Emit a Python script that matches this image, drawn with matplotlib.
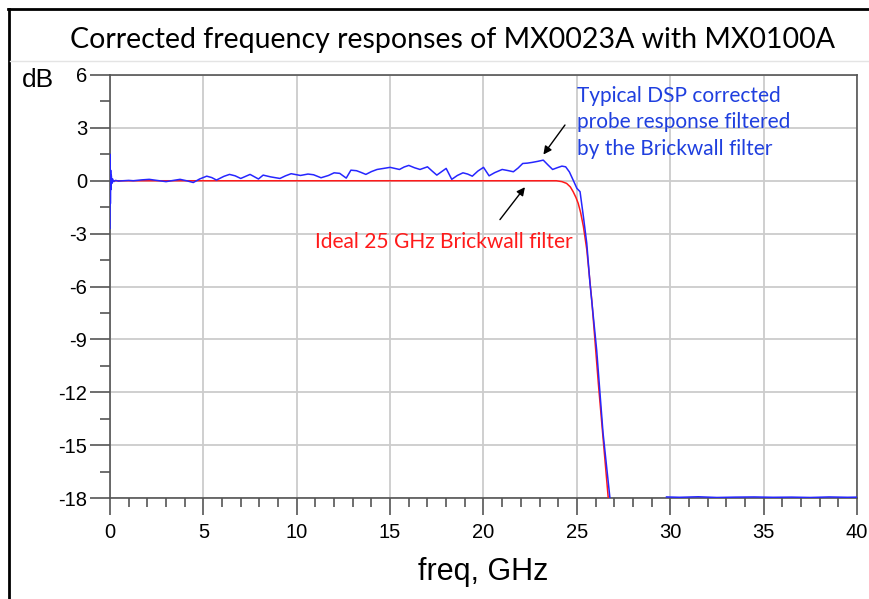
import matplotlib
matplotlib.use('Agg')
import matplotlib.pyplot as plt
from matplotlib.lines import Line2D
import numpy as np

plt.rcParams['axes.unicode_minus'] = False

# DSP corrected probe response (blue), gap where it drops below -18 dB
blue_freq = [0.0, 0.01, 0.02, 0.035, 0.05, 0.07, 0.1, 0.14, 0.2, 0.3, 0.45, 0.7,
             1.0, 1.25, 1.7, 2.1, 2.5, 3.0, 3.4, 3.75, 4.1, 4.46, 4.8, 5.18, 5.45, 5.7,
             6.1, 6.4, 6.7, 7.0, 7.5, 7.95, 8.2, 8.6, 9.1, 9.4, 9.7, 10.2, 10.6, 10.9, 11.3,
             11.7, 12.0, 12.3, 12.65, 12.9, 13.2, 13.45, 13.7, 14.0, 14.3, 14.65, 15.0,
             15.5, 15.75, 16.0, 16.3, 16.6, 17.0, 17.25, 17.5, 18.0, 18.3, 18.6, 18.9,
             19.15, 19.4, 19.7, 20.0, 20.3, 20.6, 21.0, 21.3, 21.6, 21.85,
             22.1, 22.35, 22.6, 22.9, 23.2, 23.45, 23.7, 23.95, 24.2, 24.4, 24.6, 24.8,
             25.0, 25.17, 25.35, 25.53, 25.7, 26.06, 26.4, 26.77,
             np.nan,
             29.8, 30.5, 31.5, 32.5, 33.5, 34.5, 35.5, 36.5, 37.5, 38.5, 39.5, 40.0]
blue_db = [-2.7, 1.5, -1.3, 0.6, -0.5, 0.3, -0.15, 0.1, -0.05, 0.02, -0.02, 0.0,
           0.02, 0.0, 0.05, 0.08, 0.02, -0.05, 0.02, 0.08, 0.0, -0.1, 0.1, 0.26, 0.18, 0.04,
           0.25, 0.36, 0.28, 0.13, 0.36, 0.1, 0.32, 0.22, 0.13, 0.28, 0.4, 0.3, 0.38, 0.34, 0.17,
           0.3, 0.45, 0.42, 0.15, 0.6, 0.57, 0.47, 0.36, 0.52, 0.64, 0.7, 0.76,
           0.64, 0.78, 0.87, 0.74, 0.64, 0.79, 0.55, 0.32, 0.7, 0.08, 0.3, 0.45,
           0.38, 0.26, 0.55, 0.76, 0.28, 0.46, 0.64, 0.58, 0.51, 0.72,
           0.98, 1.0, 1.04, 1.1, 1.17, 0.9, 0.64, 0.74, 0.83, 0.79, 0.5, 0.04,
           -0.43, -0.62, -2.04, -3.55, -5.8, -9.6, -14.3, -18.0,
           np.nan,
           -17.94, -17.96, -17.93, -17.97, -17.95, -17.94, -17.96, -17.95, -17.97, -17.94, -17.96, -17.95]

# Ideal 25 GHz brickwall filter (red)
red_freq = [0.0, 23.9, 24.2, 24.45, 24.65, 24.8, 24.95, 25.07, 25.2, 25.35, 25.53,
            25.8, 26.15, 26.68]
red_db = [0.0, 0.0, -0.05, -0.15, -0.35, -0.62, -0.95, -1.28, -1.8, -2.6, -3.9,
          -6.8, -11.5, -18.0]

title = "Corrected frequency responses of MX0023A with MX0100A"
blue_label = "Typical DSP corrected\nprobe response filtered\nby the Brickwall filter"
red_label = "Ideal 25 GHz Brickwall filter"

tick_font = 'Liberation Sans'
note_font = 'Lato'

fig = plt.figure(figsize=(8.7, 5.99), dpi=100)
ax = fig.add_axes([110/870, 1-498/599, 747/870, 423/599])

ax.plot(red_freq, red_db, color='#ff1a1a', lw=1.1, zorder=3)
ax.plot(blue_freq, blue_db, color='#2626ff', lw=1.1, zorder=4)

ax.set_xlim(0, 40)
ax.set_ylim(-18, 6)
ax.set_xticks(np.arange(0, 41, 5))
ax.set_xticks(np.arange(0, 41, 1), minor=True)
ax.set_yticks(np.arange(-18, 7, 3))
ax.set_yticks(np.arange(-18, 7, 1.5), minor=True)
ax.grid(True, which='major', color='#cccccc', lw=1.3)
ax.set_axisbelow(True)

for s in ax.spines.values():
    s.set_color('#555555')
    s.set_linewidth(1.2)

ax.tick_params(axis='y', which='major', direction='out', length=14.4, width=1.2,
               color='#555555', pad=2, labelsize=14.5)
ax.tick_params(axis='y', which='minor', direction='out', length=7.2, width=1.2,
               color='#555555')
ax.tick_params(axis='x', which='major', direction='out', length=12, width=1.2,
               color='#555555', pad=6, labelsize=14.5)
ax.tick_params(axis='x', which='minor', direction='out', length=6.5, width=1.2,
               color='#555555')
for lab in ax.get_xticklabels() + ax.get_yticklabels():
    lab.set_fontfamily(tick_font)

ax.set_xlabel("freq, GHz", fontsize=22, family=tick_font, labelpad=11)
fig.text(38/870, 1-80/599, "dB", fontsize=19, family=tick_font, ha='center', va='center')

# annotations
ax.text(25.0, 5.4, blue_label, color='#1f3fdf', fontsize=15, family=note_font,
        ha='left', va='top', linespacing=1.42)
ax.text(24.79, -3.48, red_label, color='#ff1a1a', fontsize=15.1, family=note_font,
        ha='right', va='center')
ax.annotate("", xy=(23.12, 1.36), xytext=(24.45, 3.29),
            arrowprops=dict(arrowstyle='-|>', color='black', lw=1.0, mutation_scale=12))
ax.annotate("", xy=(22.31, -0.24), xytext=(20.79, -2.33),
            arrowprops=dict(arrowstyle='-|>', color='black', lw=1.0, mutation_scale=12))

fig.text(453/870, 1-40/599, title, fontsize=20.5, family=note_font, ha='center', va='center')

# slide frame lines
fig.add_artist(Line2D([9/870, 9/870], [0, 1-9/599], color='black', lw=2))
fig.add_artist(Line2D([8/870, 1], [1-9/599, 1-9/599], color='black', lw=2))
fig.add_artist(Line2D([10/870, 1], [1-61/599, 1-61/599], color='#e4e4e4', lw=1))

fig.savefig("out.png", dpi=100)
